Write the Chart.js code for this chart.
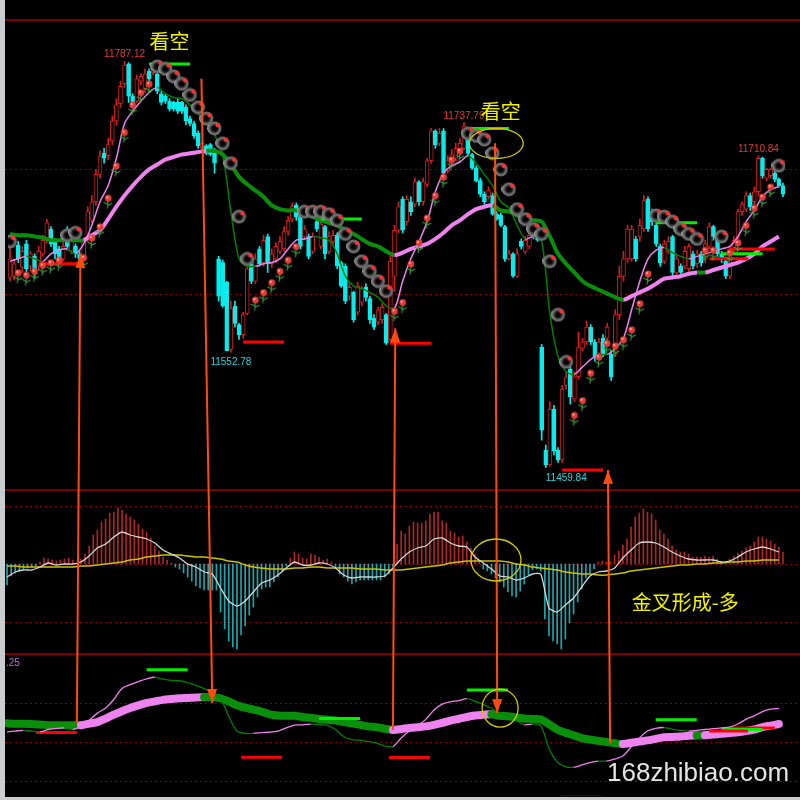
<!DOCTYPE html>
<html>
<head>
<meta charset="utf-8">
<script src="https://cdn.jsdelivr.net/npm/chart.js@4.4.1/dist/chart.umd.min.js"></script>
<style>
  html, body { margin: 0; padding: 0; background: #000; }
  #wrap { position: relative; width: 800px; height: 800px; background: #000; overflow: hidden; }
  #wrap canvas { position: absolute; left: 0; }
  #overlay { pointer-events: none; }
</style>
</head>
<body>
<div id="wrap">
  <canvas id="price" width="800" height="490" style="top:0"></canvas>
  <canvas id="macd" width="800" height="165" style="top:490px"></canvas>
  <canvas id="band" width="800" height="145" style="top:655px"></canvas>
  <canvas id="overlay" width="800" height="800" style="top:0"></canvas>
</div>
<script>
// ---- candles (one per bar) ----
var opens = [11613,11614,11639,11621,11640,11622,11630,11622,11632,11643,
  11652,11642,11636,11628,11651,11634,11638,11632,11630,11646,
  11659,11674,11696,11713,11711,11723,11739,11753,11769,11785,
  11759,11755,11771,11765,11779,11778,11777,11761,11759,11755,
  11754,11754,11754,11750,11741,11737,11729,11717,11719,11720,
  11713,11628,11625,11609,11555,11590,11575,11567,11584,11624,
  11610,11636,11625,11646,11624,11628,11634,11636,11650,11660,
  11671,11662,11646,11646,11634,11658,11638,11654,11634,11642,
  11647,11625,11622,11598,11601,11585,11593,11605,11596,11580,
  11577,11579,11583,11563,11614,11651,11676,11658,11674,11672,
  11690,11674,11688,11707,11731,11721,11731,11699,11705,11709,
  11713,11717,11729,11712,11701,11691,11680,11678,11679,11664,
  11663,11654,11628,11632,11614,11642,11634,11638,11652,11650,
  11557,11474,11462,11507,11474,11466,11526,11539,11515,11533,
  11556,11561,11573,11561,11552,11564,11564,11551,11551,11583,
  11614,11628,11628,11644,11646,11652,11676,11666,11655,11638,
  11626,11634,11646,11617,11622,11622,11620,11632,11624,11632,
  11628,11638,11654,11643,11632,11626,11614,11636,11646,11666,
  11668,11679,11674,11682,11709,11693,11695,11697,11692,11687];
var closes = [11628,11624,11628,11634,11620,11632,11616,11634,11643,11657,
  11640,11632,11626,11638,11638,11642,11632,11628,11642,11666,
  11674,11696,11711,11709,11720,11739,11752,11767,11784,11759,
  11754,11773,11775,11777,11773,11783,11763,11754,11755,11749,
  11749,11747,11747,11739,11737,11727,11719,11721,11713,11712,
  11705,11598,11590,11554,11588,11576,11567,11583,11620,11610,
  11628,11624,11643,11625,11632,11638,11642,11650,11659,11670,
  11662,11638,11652,11630,11646,11652,11656,11632,11646,11647,
  11622,11606,11594,11605,11579,11606,11604,11597,11579,11573,
  11587,11589,11560,11626,11651,11670,11651,11676,11666,11690,
  11674,11690,11707,11731,11720,11729,11697,11707,11712,11717,
  11721,11735,11713,11701,11691,11680,11674,11683,11664,11660,
  11655,11628,11632,11614,11632,11638,11643,11647,11646,11643,
  11490,11462,11507,11473,11466,11523,11533,11517,11533,11557,
  11561,11573,11561,11549,11561,11551,11573,11533,11583,11614,
  11628,11652,11652,11628,11655,11675,11652,11658,11640,11625,
  11640,11642,11617,11628,11617,11634,11638,11622,11632,11625,
  11640,11654,11646,11632,11628,11614,11636,11643,11666,11672,
  11679,11670,11682,11709,11695,11700,11700,11692,11687,11680];
var highs = [11646,11628,11642,11638,11643,11634,11632,11638,11647,11660,
  11654,11644,11638,11641,11654,11646,11640,11634,11644,11670,
  11679,11700,11715,11717,11725,11743,11757,11771,11787.12,11786,
  11761,11776,11777,11781,11781,11785,11779,11763,11761,11757,
  11755,11757,11755,11752,11743,11739,11731,11723,11720,11721,
  11717,11630,11627,11610,11594,11594,11576,11585,11622,11626,
  11632,11638,11647,11648,11636,11641,11646,11654,11662,11673,
  11673,11663,11655,11648,11649,11660,11659,11655,11650,11651,
  11649,11626,11624,11608,11602,11609,11606,11608,11598,11583,
  11589,11592,11584,11630,11655,11674,11678,11679,11678,11693,
  11691,11693,11709,11733,11732,11733,11733,11711,11716,11721,
  11725,11737.79,11731,11713,11703,11693,11682,11686,11681,11666,
  11665,11655,11635,11633,11636,11644,11646,11650,11655,11652,
  11559,11478,11513,11510,11476,11526,11537,11541,11537,11569,
  11564,11578,11575,11563,11564,11567,11576,11554,11587,11622,
  11634,11655,11655,11646,11660,11679,11678,11668,11658,11640,
  11643,11646,11647,11632,11624,11638,11640,11634,11635,11634,
  11643,11657,11655,11646,11634,11628,11638,11646,11668,11674,
  11682,11681,11686,11710.84,11710,11701,11701,11699,11693,11689];
var lows = [11610,11611,11625,11617,11617,11618,11613,11619,11630,11641,
  11638,11628,11624,11626,11635,11632,11629,11625,11628,11642,
  11657,11671,11693,11705,11708,11720,11736,11750,11766,11754,
  11752,11754,11768,11762,11770,11776,11761,11752,11753,11747,
  11747,11745,11745,11736,11735,11725,11717,11716,11712,11711,
  11697,11594,11589,11554,11552.78,11573,11563,11564,11583,11608,
  11608,11622,11622,11617,11621,11625,11632,11634,11647,11658,
  11659,11636,11643,11628,11632,11650,11636,11628,11632,11640,
  11620,11605,11592,11595,11577,11583,11590,11594,11576,11571,
  11575,11576,11559,11560,11602,11649,11649,11655,11663,11670,
  11671,11671,11686,11705,11717,11719,11695,11697,11703,11707,
  11711,11716,11711,11700,11690,11678,11672,11676,11663,11659,
  11654,11626,11627,11613,11613,11636,11632,11636,11644,11642,
  11482,11459.84,11461,11470,11464,11464,11523,11511,11513,11531,
  11554,11559,11559,11546,11551,11549,11562,11530,11549,11579,
  11610,11625,11626,11626,11642,11650,11650,11655,11638,11622,
  11624,11632,11614,11614,11615,11620,11617,11620,11621,11622,
  11625,11636,11643,11630,11625,11612,11612,11633,11643,11663,
  11666,11667,11671,11679,11693,11691,11693,11690,11686,11678];

// ---- overlays, one value every second bar ----
var MA_STEP = 2;
var fastMA = [11626,11628,11630,11628,11626,11632,11635,11636,11632,11640,
  11655,11674,11687,11709,11737,11747,11755,11762,11766,11761,
  11758,11757,11752,11745,11737,11728,11712,11666,11628,11622,
  11622,11624,11625,11628,11636,11643,11644,11646,11645,11643,
  11632,11614,11606,11604,11601,11597,11590,11588,11610,11628,
  11642,11658,11682,11697,11703,11706,11711,11705,11696,11687,
  11674,11669,11655,11644,11646,11642,11584,11549,11537,11535,
  11541,11547,11551,11551,11556,11564,11587,11610,11628,11635,
  11637,11633,11630,11628,11630,11632,11634,11636,11638,11646,
  11658,11667,11678,11684,11686];
var slowMA = [11648,11647,11647,11646,11645,11643,11643,11643,11643,11643,
  11647,11651,11660,11670,11679,11687,11694,11700,11704,11708,
  11710,11712,11713,11714,11715,11715,11712,11704,11694,11688,
  11683,11678,11671,11668,11667,11667,11664,11662,11659,11657,
  11655,11651,11648,11644,11640,11638,11634,11631,11633,11636,
  11638,11640,11644,11649,11655,11659,11664,11668,11670,11671,
  11667,11666,11663,11660,11659,11658,11646,11632,11624,11617,
  11610,11606,11603,11600,11597,11595,11598,11601,11604,11608,
  11612,11613,11614,11616,11617,11617,11619,11621,11623,11625,
  11628,11632,11638,11642,11646];
var sarDots = [11642,11614,11612,11615,11620,11622,11624,11647,11649,11626,
  11642,11651,11674,11700,11727,11749,11759,11766,11783,11781,
  11775,11769,11760,11750,11741,11733,11721,11705,11662,11628,
  11592,11598,11606,11615,11624,11635,11666,11666,11666,11664,
  11659,11648,11638,11626,11618,11610,11602,11583,11590,11621,
  11638,11658,11676,11691,11705,11712,11729,11727,11724,11713,
  11700,11684,11668,11660,11652,11648,11626,11583,11545,11499,
  11511,11533,11546,11557,11555,11560,11568,11589,11613,11663,
  11662,11658,11652,11648,11644,11632,11632,11646,11630,11638,
  11652,11666,11675,11683,11703];

// ---- MACD ----
var macdHist = [-21,-12,-9,-7,-5,-4,-3,-2,2,6,
  5,4,3,4,5,6,4,1,5,10,
  18,29,34,42,45,51,52,56,54,50,
  47,44,40,35,32,26,18,13,7,4,
  1,-3,-5,-9,-13,-17,-22,-24,-26,-26,
  -26,-26,-48,-65,-77,-83,-85,-71,-62,-51,
  -43,-33,-25,-23,-23,-18,-13,-7,-2,6,
  12,10,6,5,10,9,7,4,5,2,
  -3,-10,-13,-17,-20,-18,-16,-16,-16,-16,
  -16,-16,-13,-10,-3,20,33,30,38,42,
  41,41,43,50,52,52,43,41,33,31,
  27,28,22,16,10,4,-5,-7,-10,-14,
  -18,-23,-28,-32,-33,-27,-20,-11,-6,-5,
  -7,-55,-72,-77,-80,-85,-75,-59,-50,-38,
  -25,-14,-9,-5,2,3,2,2,9,13,
  19,25,37,47,51,55,52,50,44,34,
  30,25,18,14,12,12,10,7,7,7,
  8,7,8,5,3,2,5,8,11,13,
  16,18,22,27,27,25,23,20,17,12];
var macdDif = [-13,-8,-6,-6,-3,1,-1,0,0,2,
  8,16,20,27,32,29,27,25,21,14,
  10,6,0,-3,-8,-10,-24,-37,-42,-37,
  -28,-19,-16,-11,-4,2,-1,-1,1,0,
  -4,-11,-14,-13,-13,-13,-12,-4,5,12,
  16,18,25,26,21,18,17,7,1,-5,
  -12,-13,-16,-14,-10,-10,-44,-48,-41,-34,
  -23,-12,-8,-7,-4,6,14,21,22,21,
  17,12,8,5,4,4,4,2,3,7,
  12,15,17,15,12];
var macdDea = [-2,-2,-3,-3,-3,-3,-3,-3,-3,-2,
  -2,-1,0,1,2,4,5,7,8,9,
  9,9,8,7,7,6,5,3,2,-1,
  -3,-4,-5,-5,-5,-4,-4,-3,-3,-4,
  -4,-4,-4,-5,-5,-5,-6,-6,-6,-5,
  -4,-3,-2,-1,1,2,3,3,3,3,
  3,2,0,-1,-3,-4,-5,-6,-8,-9,
  -10,-10,-11,-11,-10,-9,-7,-6,-5,-4,
  -3,-2,-1,-1,0,0,1,1,2,2,
  3,3,4,4,4];

// ---- pressure / support marks ----
var levelFrom  = [7, 34, 57, 76, 93, 112, 135, 158, 171, 174, 176];
var levelTo    = [17, 44, 67, 86, 103, 122, 145, 168, 180.5, 184, 187];
var levelPrice = [11624, 11785, 11561, 11660, 11560, 11733, 11458, 11657, 11628, 11632, 11636];
var levelKind  = ['S','R','S','R','S','R','S','R','S','R','S'];

// ---- text marks ----
var extremeIdx   = [28, 54, 111, 131, 183];
var extremePrice = [11787.12, 11552.78, 11737.79, 11459.84, 11710.84];
var noteIdx   = [39, 120];
var notePrice = [11803, 11746.5];
var noteText  = ['看空', '看空'];
var crossIdx = 165.2, crossVal = -38, crossText = '金叉形成-多';

// ---- arrows between the lower band and the price panel ----
var arrowPriceIdx = [17.2, 46.8, 94.2, 118.6, 146.2];
var arrowPriceVal = [11632, 11773, 11572, 11721, 11458];
var arrowBandIdx  = [17, 50, 94, 119.4, 146.9];
var arrowBandVal  = [11649, 11700, 11631, 11674, 11597];
var arrowUp       = [true, false, true, false, true];

var priceGrid = [11700, 11600];
var bandGrid = [11700, 11600, 11500];
var macdGrid = [58, 0, -58];

var UP = '#d41e1e', DOWN = '#00eeee', PINK = '#ee82ee', GREEN = '#0a8f0a', THIN_GREEN = '#008000';
var GRID = '#8a0000';

// icons for the signal dots
var ringIcon = document.createElement('canvas');
ringIcon.width = 15; ringIcon.height = 15;
(function () {
  var g = ringIcon.getContext('2d');
  g.beginPath(); g.arc(7.5, 7.5, 5.6, 0, Math.PI * 2);
  g.fillStyle = '#262626'; g.fill();
  g.lineWidth = 2.6; g.strokeStyle = '#6c6c6c'; g.stroke();
  g.beginPath(); g.arc(6.4, 7.2, 5.8, Math.PI * 0.7, Math.PI * 1.2);
  g.lineWidth = 1; g.strokeStyle = '#a6a6a6'; g.stroke();
  g.beginPath(); g.arc(7.5, 7.5, 2.6, 0, Math.PI * 2);
  g.fillStyle = '#050505'; g.fill();
  g.beginPath(); g.arc(10.8, 4, 2.3, 0, Math.PI * 2);
  g.fillStyle = '#ff3030'; g.fill();
})();
var roseIcon = document.createElement('canvas');
roseIcon.width = 10; roseIcon.height = 15;
(function () {
  var g = roseIcon.getContext('2d');
  g.strokeStyle = '#40a040'; g.lineWidth = 1.1;
  g.beginPath();
  g.moveTo(5, 6.5); g.lineTo(4, 14.5);
  g.moveTo(4.5, 10); g.lineTo(0.5, 8);
  g.moveTo(4.3, 11.5); g.lineTo(9, 9);
  g.stroke();
  g.beginPath(); g.arc(5, 4, 3.4, 0, Math.PI * 2);
  g.fillStyle = '#e23c36'; g.fill();
  g.beginPath(); g.arc(4, 3.1, 1.2, 0, Math.PI * 2);
  g.fillStyle = '#ffa096'; g.fill();
})();

function slope(up, down) {
  return function (ctx) { return ctx.p1.parsed.y > ctx.p0.parsed.y ? up : down; };
}
function sampled(arr) {
  return arr.map(function (v, k) { return { x: k * MA_STEP, y: v }; });
}
function levelSets(width) {
  return levelPrice.map(function (p, n) {
    return {
      type: 'line',
      data: [{ x: levelFrom[n], y: p }, { x: levelTo[n], y: p }],
      borderColor: levelKind[n] === 'R' ? '#00f000' : '#ff0000',
      borderWidth: width, pointRadius: 0, order: 1
    };
  });
}
function dotted(values) {
  return {
    id: 'dotted',
    beforeDatasetsDraw: function (chart) {
      var c = chart.ctx, y = chart.scales.y;
      c.save();
      c.strokeStyle = GRID; c.lineWidth = 1; c.setLineDash([2, 3]);
      values.forEach(function (v) {
        var py = Math.round(y.getPixelForValue(v)) + 0.5;
        c.beginPath(); c.moveTo(5, py); c.lineTo(chart.width, py); c.stroke();
      });
      c.restore();
    }
  };
}
var xScale = { type: 'linear', min: -0.5, max: 189.5, display: false, offset: false };
var base = {
  responsive: false, maintainAspectRatio: false, animation: false, events: [],
  layout: { padding: { left: 5, right: 15, top: 0, bottom: 0 } },
  plugins: { legend: { display: false }, tooltip: { enabled: false } }
};
function opts(ymin, ymax, pad) {
  var o = JSON.parse(JSON.stringify(base));
  o.layout.padding.top = pad.top; o.layout.padding.bottom = pad.bottom;
  o.scales = { x: xScale, y: { type: 'linear', min: ymin, max: ymax, display: false } };
  return o;
}

var isUp = function (i) { return closes[i] >= opens[i]; };

// ---- price panel ----
var priceText = {
  id: 'priceText',
  afterDatasetsDraw: function (chart) {
    var c = chart.ctx, xs = chart.scales.x, ys = chart.scales.y;
    c.save();
    c.font = '10px "Liberation Sans Narrow", "Liberation Sans", sans-serif';
    extremeIdx.forEach(function (idx, n) {
      var px = xs.getPixelForValue(idx), py = ys.getPixelForValue(extremePrice[n]);
      var high = extremePrice[n] === highs[idx];
      c.fillStyle = high ? '#e23a3a' : '#2fd4dc';
      c.textAlign = (n === 3) ? 'left' : 'center';
      c.textBaseline = 'alphabetic';
      c.fillText(extremePrice[n].toFixed(2), px, high ? py - 4 : py + 13);
    });
    c.font = '20px "Noto Sans CJK SC", sans-serif';
    c.fillStyle = '#f2f200'; c.textAlign = 'center'; c.textBaseline = 'middle';
    noteIdx.forEach(function (idx, n) {
      c.fillText(noteText[n], xs.getPixelForValue(idx), ys.getPixelForValue(notePrice[n]));
    });
    c.restore();
  }
};

var priceChart = new Chart(document.getElementById('price'), {
  type: 'bar',
  data: {
    datasets: [
      {
        type: 'scatter',
        data: sampled(sarDots),
        pointStyle: function (ctx) {
          return sarDots[ctx.dataIndex] > closes[ctx.dataIndex * MA_STEP] ? ringIcon : roseIcon;
        },
        pointRadius: 7, order: 0
      },
      {
        type: 'line', data: sampled(slowMA), borderColor: PINK, borderWidth: 4,
        pointRadius: 0, tension: 0.3, segment: { borderColor: slope(PINK, GREEN) }, order: 2
      },
      {
        type: 'line', data: sampled(fastMA), borderColor: PINK, borderWidth: 1.5,
        pointRadius: 0, tension: 0.3, segment: { borderColor: slope(PINK, THIN_GREEN) }, order: 2
      }
    ].concat(levelSets(3)).concat([
      {
        type: 'bar', grouped: false, order: 3,
        data: opens.map(function (o, i) { return { x: i, y: [o, closes[i]] }; }),
        backgroundColor: function (ctx) { return isUp(ctx.dataIndex) ? '#000' : DOWN; },
        borderColor: function (ctx) { return isUp(ctx.dataIndex) ? UP : DOWN; },
        borderWidth: 1, borderSkipped: false, barThickness: 4
      },
      {
        type: 'bar', grouped: false, order: 4,
        data: highs.map(function (h, i) { return { x: i, y: [lows[i], h] }; }),
        backgroundColor: function (ctx) { return isUp(ctx.dataIndex) ? UP : DOWN; },
        barThickness: 1
      }
    ])
  },
  options: opts(11448.24, 11820.37, { top: 20, bottom: 0 }),
  plugins: [dotted(priceGrid), priceText]
});

// ---- MACD panel ----
var macdText = {
  id: 'macdText',
  afterDatasetsDraw: function (chart) {
    var c = chart.ctx;
    c.save();
    c.font = '20px "Noto Sans CJK SC", sans-serif';
    c.fillStyle = '#f2f200'; c.textAlign = 'center'; c.textBaseline = 'middle';
    c.fillText(crossText, chart.scales.x.getPixelForValue(crossIdx), chart.scales.y.getPixelForValue(crossVal));
    c.restore();
  }
};
var macdChart = new Chart(document.getElementById('macd'), {
  type: 'bar',
  data: {
    datasets: [
      { type: 'line', data: sampled(macdDif), borderColor: '#d6d6d6', borderWidth: 1.3, pointRadius: 0, tension: 0.2, order: 0 },
      { type: 'line', data: sampled(macdDea), borderColor: '#c8c400', borderWidth: 1.5, pointRadius: 0, tension: 0.3, order: 1 },
      {
        type: 'bar', grouped: false, order: 2,
        data: macdHist.map(function (v, i) { return { x: i, y: [0, v] }; }),
        backgroundColor: function (ctx) { return macdHist[ctx.dataIndex] >= 0 ? '#b02626' : '#1ea6ae'; },
        barThickness: 1
      }
    ]
  },
  options: opts(-91, 74, { top: 0, bottom: 0 }),
  plugins: [dotted(macdGrid), macdText]
});

// ---- lower band panel ----
var bandText = {
  id: 'bandText',
  afterDraw: function (chart) {
    var c = chart.ctx;
    c.save();
    c.font = '10px "Liberation Sans", sans-serif';
    c.fillStyle = '#c070d8'; c.textBaseline = 'top';
    c.fillText('.25', 6, 3);
    c.restore();
  }
};
var bandChart = new Chart(document.getElementById('band'), {
  type: 'line',
  data: {
    datasets: [
      {
        data: sampled(fastMA), borderColor: PINK, borderWidth: 1.3, pointRadius: 0, tension: 0.3,
        segment: { borderColor: slope(PINK, THIN_GREEN) }, order: 0
      },
      {
        data: sampled(slowMA), borderColor: PINK, borderWidth: 8, pointRadius: 0, tension: 0.3,
        borderCapStyle: 'round', borderJoinStyle: 'round',
        segment: { borderColor: slope(PINK, GREEN) }, order: 2
      }
    ].concat(levelSets(3))
  },
  options: opts(11461.5, 11823, { top: 0, bottom: 4 }),
  plugins: [dotted(bandGrid), bandText]
});

// ---- frame, arrows, rings, watermark ----
(function () {
  var ov = document.getElementById('overlay').getContext('2d');
  var pTop = priceChart.chartArea.top, mTop = 490, bTop = 655;
  ov.fillStyle = '#7c0000';
  ov.fillRect(0, pTop - 1, 800, 2);
  ov.fillRect(0, mTop - 1, 800, 2);
  ov.fillRect(0, bTop - 2, 800, 2);
  ov.fillStyle = '#c9cdd0';
  ov.fillRect(0, 0, 5, 800);
  ov.fillRect(0, 797, 800, 3);

  function px(chart, idx) { return chart.scales.x.getPixelForValue(idx); }
  function py(chart, top, v) { return top + chart.scales.y.getPixelForValue(v); }
  function arrow(x1, y1, x2, y2) {
    ov.beginPath(); ov.moveTo(x1, y1); ov.lineTo(x2, y2); ov.stroke();
    var a = Math.atan2(y2 - y1, x2 - x1), L = 14, W = 5;
    ov.beginPath();
    ov.moveTo(x2, y2);
    ov.lineTo(x2 - L * Math.cos(a) + W * Math.sin(a), y2 - L * Math.sin(a) - W * Math.cos(a));
    ov.lineTo(x2 - L * Math.cos(a) - W * Math.sin(a), y2 - L * Math.sin(a) + W * Math.cos(a));
    ov.closePath(); ov.fill();
  }
  ov.strokeStyle = '#ff4a10'; ov.fillStyle = '#ff4a10'; ov.lineWidth = 2;
  arrowUp.forEach(function (up, n) {
    var tx = px(priceChart, arrowPriceIdx[n]), ty = py(priceChart, 0, arrowPriceVal[n]);
    var bx = px(bandChart, arrowBandIdx[n]), by = py(bandChart, bTop, arrowBandVal[n]);
    if (up) arrow(bx, by, tx, ty); else arrow(tx, ty, bx, by);
  });

  ov.strokeStyle = '#d2c800'; ov.lineWidth = 1.3;
  ov.beginPath(); ov.ellipse(px(priceChart, 118.9), py(priceChart, 0, 11721), 27, 15, 0, 0, Math.PI * 2); ov.stroke();
  ov.beginPath(); ov.ellipse(px(macdChart, 119.1), py(macdChart, mTop, 4), 25, 21, 0, 0, Math.PI * 2); ov.stroke();
  ov.beginPath(); ov.ellipse(px(bandChart, 120.1), py(bandChart, bTop, 11687), 18, 19, 0, 0, Math.PI * 2); ov.stroke();

  ov.font = '26px "Liberation Sans", Arial, sans-serif';
  ov.fillStyle = '#e4e4e4'; ov.textBaseline = 'alphabetic'; ov.textAlign = 'left';
  ov.fillText('168zhibiao.com', 607, 781);
})();
</script>
</body>
</html>
